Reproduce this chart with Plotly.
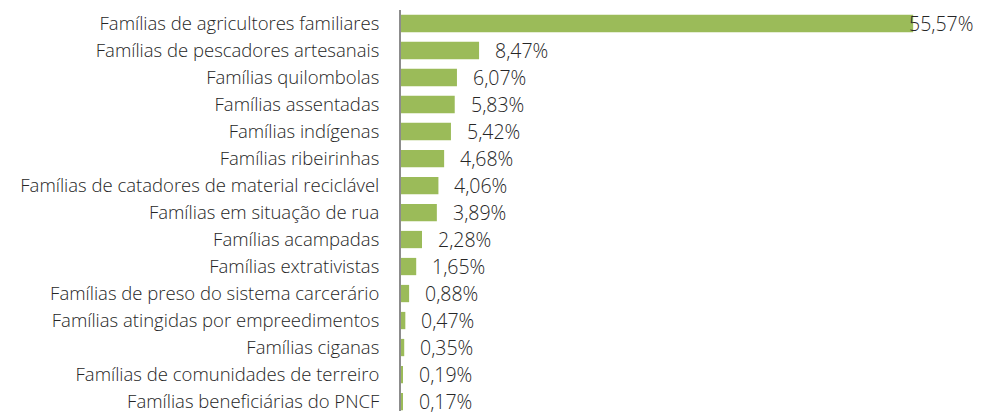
import plotly.graph_objects as go

categories = [
    "Famílias de agricultores familiares",
    "Famílias de pescadores artesanais",
    "Famílias quilombolas",
    "Famílias assentadas",
    "Famílias indígenas",
    "Famílias ribeirinhas",
    "Famílias de catadores de material reciclável",
    "Famílias em situação de rua",
    "Famílias acampadas",
    "Famílias extrativistas",
    "Famílias de preso do sistema carcerário",
    "Famílias atingidas por empreedimentos",
    "Famílias ciganas",
    "Famílias de comunidades de terreiro",
    "Famílias beneficiárias do PNCF",
]
values = [55.57, 8.47, 6.07, 5.83, 5.42, 4.68, 4.06, 3.89, 2.28, 1.65, 0.88, 0.47, 0.35, 0.19, 0.17]
value_labels = ["55,57%", "8,47%", "6,07%", "5,83%", "5,42%", "4,68%", "4,06%", "3,89%",
                "2,28%", "1,65%", "0,88%", "0,47%", "0,35%", "0,19%", "0,17%"]

FONT = "Open Sans"

fig = go.Figure(go.Bar(
    x=values, y=categories, orientation="h",
    marker=dict(color="#9BBB59", line=dict(width=0)),
    hoverinfo="skip",
))

vmax = max(values)
for c, v, t in zip(categories, values, value_labels):
    fig.add_annotation(
        x=v, y=c, text=t, showarrow=False, xanchor="left", yanchor="middle",
        xshift=(-6 if v == vmax else 14),
        font=dict(family=FONT, size=19.5, color="#262626", weight=300),
    )

# page body has an 8px default margin; compensate in figure size/margins
fig.update_layout(
    width=974, height=405,
    margin=dict(l=393, r=28, t=2, b=0),
    paper_bgcolor="white", plot_bgcolor="white",
    bargap=0.36,
    showlegend=False,
    xaxis=dict(range=[0, 60], visible=False, fixedrange=True),
    yaxis=dict(
        type="category", range=[14.35, -0.5],
        showline=True, linecolor="#8C8C8C", linewidth=2,
        ticks="", showgrid=False, zeroline=False,
        ticklabelstandoff=16,
        tickfont=dict(family=FONT, size=18.5, color="#262626", weight=300),
    ),
)

fig.write_html("out.html")
